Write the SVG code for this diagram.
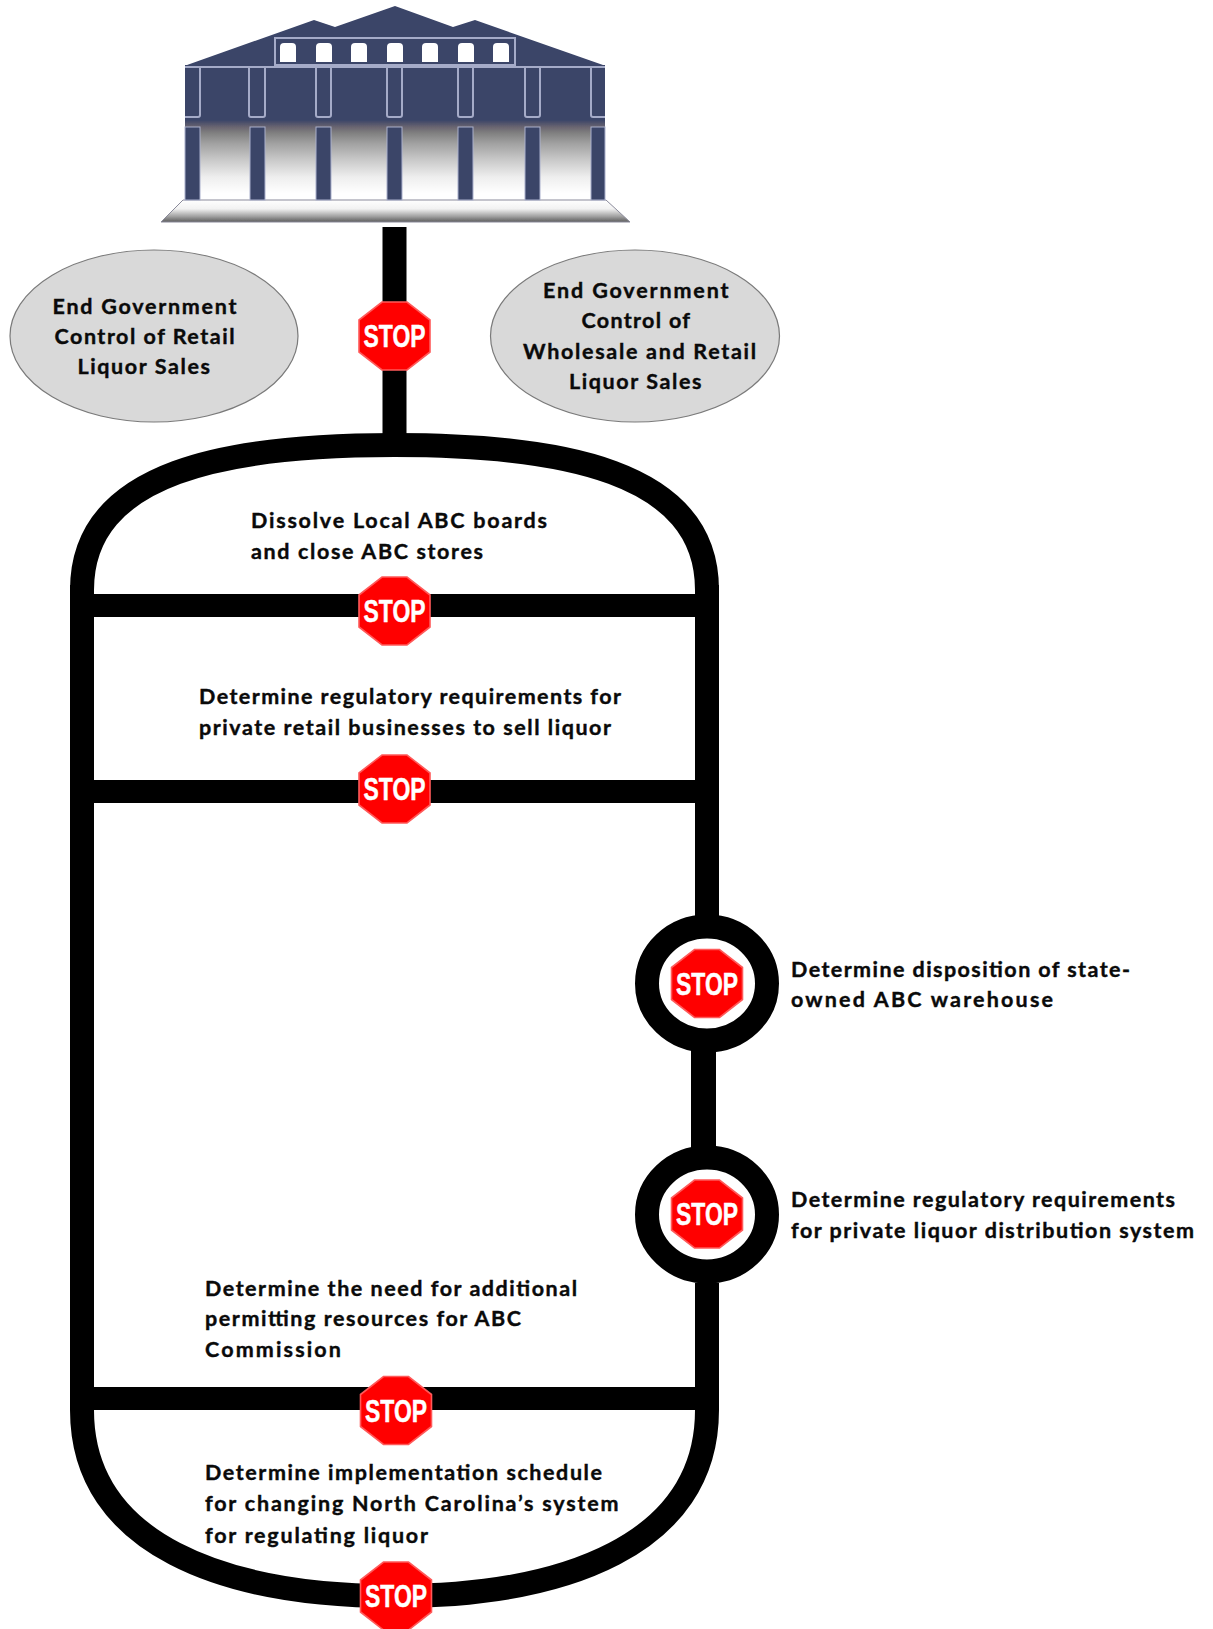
<svg xmlns="http://www.w3.org/2000/svg" width="1213" height="1629" viewBox="0 0 1213 1629">
<style>
.t{font-family:Lato,"Liberation Sans",sans-serif;font-weight:700;font-size:21.5px;fill:#0a0a0a;stroke:#0a0a0a;stroke-width:.4}
.s{font-family:"Liberation Sans",Arial,sans-serif;font-weight:700;font-size:31px;fill:#fff;stroke:#fff;stroke-width:.5;text-anchor:middle}
.w{fill:none;stroke:#000;stroke-width:24}
.b{fill:#000}
.col{fill:#3a4468;stroke:#aab0cc;stroke-width:1}
.up{fill:none;stroke:#a5abc8;stroke-width:2}
.win{fill:#fff}
.bub{fill:#d9d9d9;stroke:#7a7a7a;stroke-width:1.2}
</style>
<defs>
<linearGradient id="body" gradientUnits="userSpaceOnUse" x1="0" y1="65" x2="0" y2="200">
<stop offset="0" stop-color="#3a4468"/><stop offset="0.407" stop-color="#3a4468"/><stop offset="0.46" stop-color="#6a6570"/><stop offset="0.504" stop-color="#808080"/><stop offset="0.578" stop-color="#a0a0a0"/><stop offset="0.7" stop-color="#c8c8c8"/><stop offset="0.83" stop-color="#eee"/><stop offset="0.95" stop-color="#fff"/>
</linearGradient>
<linearGradient id="base" gradientUnits="userSpaceOnUse" x1="0" y1="200" x2="0" y2="222">
<stop offset="0" stop-color="#fff"/><stop offset="0.4" stop-color="#f2f2f2"/><stop offset="0.75" stop-color="#a0a0a0"/><stop offset="1" stop-color="#5c5c5c"/>
</linearGradient>
<filter id="soft" x="-5%" y="-5%" width="110%" height="110%"><feGaussianBlur stdDeviation="0.5"/></filter>
<g id="stop">
<polygon points="-12.5,-34 12.5,-34 35.5,-16 35.5,16 12.5,34 -12.5,34 -35.5,16 -35.5,-16" fill="#f00" stroke="#ff5a5a" stroke-width="1.6"/>
<text class="s" x="0" y="11" textLength="62" lengthAdjust="spacingAndGlyphs">STOP</text>
</g>
</defs>
<rect width="1213" height="1629" fill="#fff"/>
<g id="connectors">
<rect class="b" x="382.5" y="227" width="24" height="212"/>
<path class="w" d="M82,590 C82,470 230,445 394.5,445 C559,445 707,470 707,590"/>
<rect class="b" x="70" y="585" width="24" height="825"/>
<rect class="b" x="695" y="585" width="24" height="333"/>
<rect class="b" x="691" y="1050" width="25" height="98"/>
<rect class="b" x="695" y="1283" width="24" height="127"/>
<rect class="b" x="94" y="594" width="601" height="23"/>
<rect class="b" x="94" y="780" width="601" height="23"/>
<rect class="b" x="94" y="1387" width="601" height="23"/>
<path class="w" d="M82,1410 C82,1545 225,1596 394.5,1596 C564,1596 707,1545 707,1410"/>
<ellipse class="w" cx="707" cy="983.5" rx="60" ry="57"/>
<ellipse class="w" cx="707" cy="1214.5" rx="60" ry="57"/>
</g>
<g id="capitol" filter="url(#soft)">
<polygon points="187,65 314,20 335,27 395,6 453,27 475,20 603,65" fill="#3a4468"/>
<rect x="185" y="65" width="420" height="135" fill="url(#body)"/>
<polygon points="183,200 606,200 630,222 161,222" fill="url(#base)" stroke="#8a8a9a" stroke-width="1"/>
<rect class="up" x="275" y="38" width="240" height="27"/>
<path class="win" d="M280,62V47Q280,43 284,43H292Q296,43 296,47V62Z"/>
<path class="win" d="M316,62V47Q316,43 320,43H328Q332,43 332,47V62Z"/>
<path class="win" d="M351,62V47Q351,43 355,43H363Q367,43 367,47V62Z"/>
<path class="win" d="M387,62V47Q387,43 391,43H399Q403,43 403,47V62Z"/>
<path class="win" d="M422,62V47Q422,43 426,43H434Q438,43 438,47V62Z"/>
<path class="win" d="M458,62V47Q458,43 462,43H470Q474,43 474,47V62Z"/>
<path class="win" d="M493,62V47Q493,43 497,43H505Q509,43 509,47V62Z"/>
<path class="up" d="M185,67H605"/>
<path class="up" d="M200,67V115Q200,117 198,117H185M249,67V115Q249,117 251,117H263Q265,117 265,115V67M316,67V115Q316,117 318,117H329Q331,117 331,115V67M387,67V115Q387,117 389,117H400Q402,117 402,115V67M458,67V115Q458,117 460,117H471Q473,117 473,115V67M525,67V115Q525,117 527,117H538Q540,117 540,115V67M591,67V115Q591,117 593,117H605"/>
<rect class="col" x="185" y="127" width="15" height="73"/>
<rect class="col" x="250" y="127" width="15" height="73"/>
<rect class="col" x="316" y="127" width="15" height="73"/>
<rect class="col" x="387" y="127" width="15" height="73"/>
<rect class="col" x="458" y="127" width="15" height="73"/>
<rect class="col" x="525" y="127" width="15" height="73"/>
<rect class="col" x="591" y="127" width="14" height="73"/>
</g>
<g id="goal-retail">
<ellipse class="bub" cx="154" cy="336" rx="144" ry="86"/>
<text class="t" x="52.5" y="314" textLength="184">End Government</text>
<text class="t" x="54.5" y="344" textLength="180">Control of Retail</text>
<text class="t" x="77.5" y="374" textLength="132.5">Liquor Sales</text>
</g>
<g id="goal-wholesale">
<ellipse class="bub" cx="635" cy="336" rx="144.5" ry="86"/>
<text class="t" x="543" y="298" textLength="185.5">End Government</text>
<text class="t" x="581.5" y="328" textLength="108.5">Control of</text>
<text class="t" x="523" y="359" textLength="233">Wholesale and Retail</text>
<text class="t" x="569" y="389" textLength="132.5">Liquor Sales</text>
</g>
<g id="stop-top"><use href="#stop" x="394.5" y="336"/></g>
<g id="step-dissolve">
<text class="t" x="251" y="528" textLength="296">Dissolve Local ABC boards</text>
<text class="t" x="251" y="559" textLength="232">and close ABC stores</text>
<use href="#stop" x="394.5" y="611"/>
</g>
<g id="step-retail">
<text class="t" x="199" y="704" textLength="422">Determine regulatory requirements for</text>
<text class="t" x="199" y="735" textLength="412">private retail businesses to sell liquor</text>
<use href="#stop" x="394.5" y="789"/>
</g>
<g id="step-warehouse">
<use href="#stop" x="707" y="983.5"/>
<text class="t" x="791" y="977" textLength="339">Determine disposition of state-</text>
<text class="t" x="791" y="1007" textLength="262">owned ABC warehouse</text>
</g>
<g id="step-distribution">
<use href="#stop" x="707" y="1214"/>
<text class="t" x="791" y="1207" textLength="384">Determine regulatory requirements</text>
<text class="t" x="791" y="1238" textLength="403">for private liquor distribution system</text>
</g>
<g id="step-permitting">
<text class="t" x="205" y="1296" textLength="372">Determine the need for additional</text>
<text class="t" x="205" y="1326" textLength="316">permitting resources for ABC</text>
<text class="t" x="205" y="1357" textLength="136">Commission</text>
<use href="#stop" x="396" y="1410.5"/>
</g>
<g id="step-schedule">
<text class="t" x="205" y="1480" textLength="397">Determine implementation schedule</text>
<text class="t" x="205" y="1511" textLength="413.5">for changing North Carolina’s system</text>
<text class="t" x="205" y="1543" textLength="223">for regulating liquor</text>
<use href="#stop" x="396" y="1596"/>
</g>
</svg>
